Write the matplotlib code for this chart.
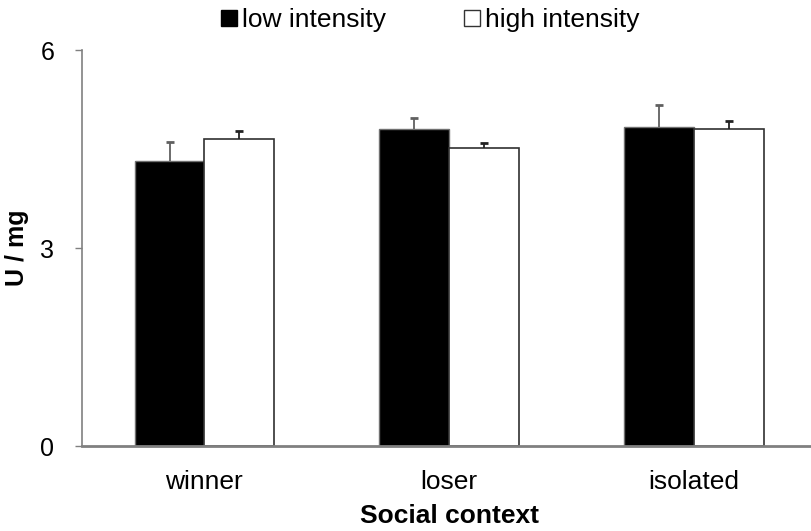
import numpy as np
import matplotlib.pyplot as plt

plt.rcParams['font.family'] = ['Liberation Sans', 'DejaVu Sans']

contexts = ['winner', 'loser', 'isolated']
low_mean = [4.32, 4.80, 4.83]
low_err = [0.29, 0.17, 0.33]
high_mean = [4.65, 4.52, 4.81]
high_err = [0.12, 0.07, 0.11]

fig = plt.figure(figsize=(8.11, 5.31), dpi=100)
ax = fig.add_axes([82 / 811, 85 / 531, 734.5 / 811, 396 / 531])

x = np.arange(len(contexts))
w = 0.285
axis_grey = '#808080'

ax.bar(x - w / 2, low_mean, w, color='black', edgecolor='#707070', linewidth=1,
       label='low intensity', zorder=2)
ax.bar(x + w / 2, high_mean, w, color='white', edgecolor='#303030', linewidth=1.2,
       label='high intensity', zorder=2)

# only the upper half of each error bar is shown
eb1 = ax.errorbar(x - w / 2, low_mean, yerr=[[0] * 3, low_err], fmt='none',
                  ecolor='#606060', elinewidth=1.3, capsize=3, capthick=2, zorder=3)
eb2 = ax.errorbar(x + w / 2, high_mean, yerr=[[0] * 3, high_err], fmt='none',
                  ecolor='#222222', elinewidth=1.3, capsize=3, capthick=2, zorder=3)
for eb in (eb1, eb2):
    eb[1][0].set_visible(False)

ax.set_xlim(-0.5, 2.5)
ax.set_ylim(0, 6)
ax.set_yticks([0, 3, 6])
ax.set_xticks(x)
ax.set_xticklabels(contexts, fontsize=19)
ax.tick_params(axis='y', labelsize=18, length=5, color=axis_grey, width=1, pad=15)
ax.tick_params(axis='x', length=0, pad=17)

for side in ['top', 'right']:
    ax.spines[side].set_visible(False)
ax.spines['left'].set_color(axis_grey)
ax.spines['left'].set_linewidth(1.2)
ax.spines['bottom'].set_color(axis_grey)
ax.spines['bottom'].set_linewidth(2)

ax.set_xlabel('Social context', fontsize=19, fontweight='bold')
ax.set_ylabel('U / mg', fontsize=18, fontweight='bold')
ax.xaxis.set_label_coords((450 - 82) / 734.5, (446 - 504) / 396)
ax.yaxis.set_label_coords((29 - 82) / 734.5, 0.5)

h_low = plt.Line2D([], [], marker='s', linestyle='none', markersize=12,
                   markerfacecolor='black', markeredgecolor='black')
h_high = plt.Line2D([], [], marker='s', linestyle='none', markersize=11,
                    markerfacecolor='white', markeredgecolor='#333333', markeredgewidth=1)
fig.legend([h_low, h_high], ['low intensity', 'high intensity'], ncol=2,
           loc='center', bbox_to_anchor=(428 / 811, 1 - 20 / 531), frameon=False,
           fontsize=19, handletextpad=0.05, columnspacing=2.8, handlelength=0.9,
           borderpad=0.2)

fig.savefig('out.png', dpi=100)
